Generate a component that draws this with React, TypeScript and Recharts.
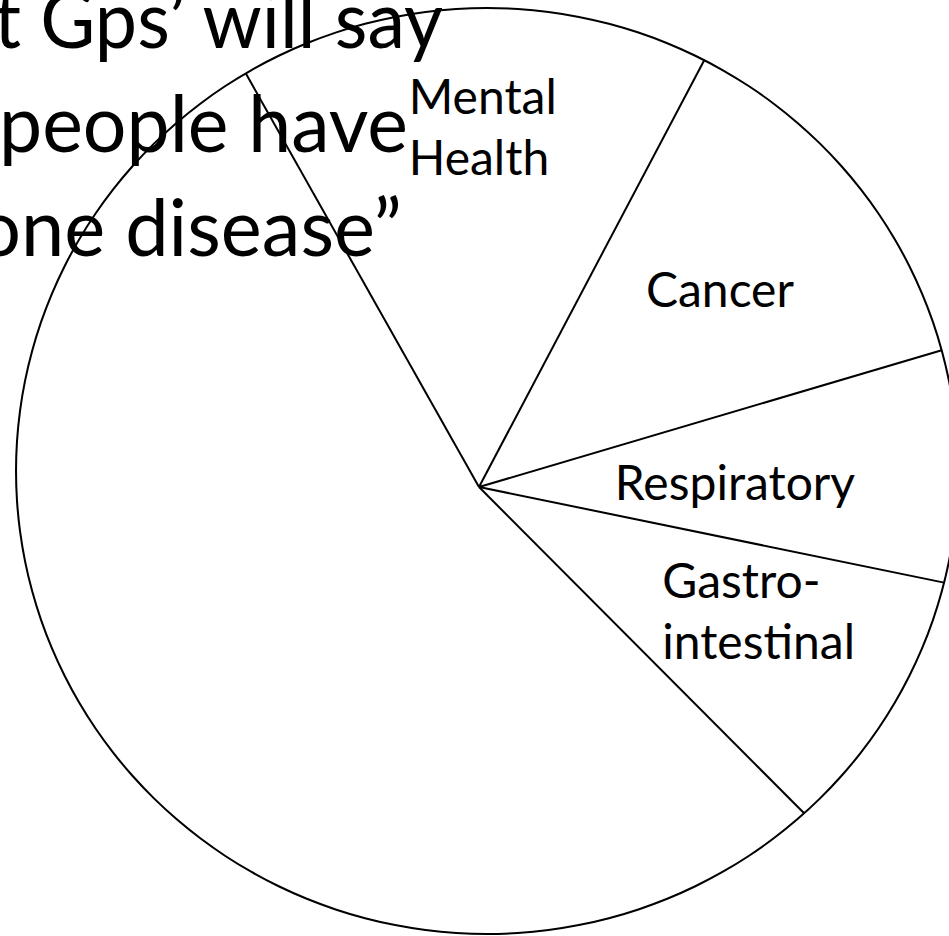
import React from 'react';
import { PieChart, Pie } from 'recharts';

// Share of consultations by disease area (percent), listed counter-clockwise
const CATEGORIES = ['Gastro-intestinal', 'Respiratory', 'Cancer', 'Mental Health', 'Other'];
const SHARES = [9.3, 7.8, 12.7, 15.9, 54.3];
// Slice captions, one entry per line (the large slice is left blank)
const LABEL_LINES: string[][] = [['Gastro-', 'intestinal'], ['Respiratory'], ['Cancer'], ['Mental', 'Health'], []];
// Heading text that runs in from the left edge of the slide
const TITLE_LINES = ['t Gps’ will say', 'people have', 'one disease”'];

const W = 949;
const H = 936;
const FONT = 'Lato, "Open Sans", sans-serif';

const PIE = { cx: 479, cy: 487, r: 467, startAngle: -45.1 };
// The outline is slightly wider than tall: drawn as a ring and stretched horizontally
const OUTLINE = { cx: 487, cy: 471, r: 464, stretch: 472 / 464, width: 2 };
const LABEL_SIZE = 48;
const LABEL_CAP = 34;
const LABEL_LINE_H = 61;
// Caption placement: distance from the pie centre and a small angular nudge off the slice mid-angle
const LABEL_PLACE = [
  { dist: 306, shift: 4.4 },
  { dist: 256, shift: -1.6 },
  { dist: 311, shift: -0.1 },
  { dist: 360, shift: -1.4 },
  { dist: 0, shift: 0 },
];
const TITLE = { size: 80, lineH: 104, firstBaseline: 48 };
const TITLE_SPAN = [
  { x: -6, w: 449 },
  { x: -1, w: 409 },
  { x: -23, w: 425 },
];

const data = CATEGORIES.map((name, i) => ({ name, share: SHARES[i] }));
const ring = [{ name: 'outline', share: 1 }];

const RAD = Math.PI / 180;

let measureCtx: CanvasRenderingContext2D | null = null;
function textWidth(s: string, size: number): number {
  if (!measureCtx) measureCtx = document.createElement('canvas').getContext('2d');
  if (!measureCtx) return s.length * size * 0.5;
  measureCtx.font = `${size}px Lato`;
  return measureCtx.measureText(s).width;
}

// Distance along a ray from (x, y) in direction (ux, uy) to the stretched outline
function distToOutline(x: number, y: number, ux: number, uy: number): number {
  const a = (OUTLINE.r - OUTLINE.width / 2) * OUTLINE.stretch;
  const b = OUTLINE.r - OUTLINE.width / 2;
  const px = x - OUTLINE.cx;
  const py = y - OUTLINE.cy;
  const A = (ux * ux) / (a * a) + (uy * uy) / (b * b);
  const B = 2 * ((px * ux) / (a * a) + (py * uy) / (b * b));
  const C = (px * px) / (a * a) + (py * py) / (b * b) - 1;
  return (-B + Math.sqrt(B * B - 4 * A * C)) / (2 * A);
}

// Draws the boundary spoke at the start of each slice and the slice's caption
function renderSlice(props: any) {
  const { cx, cy, startAngle, endAngle, index } = props;
  const ux = Math.cos(-startAngle * RAD);
  const uy = Math.sin(-startAngle * RAD);
  const t = distToOutline(cx, cy, ux, uy);

  const lines = LABEL_LINES[index] || [];
  const place = LABEL_PLACE[index];
  const mid = (startAngle + endAngle) / 2 + place.shift;
  const lx = cx + place.dist * Math.cos(-mid * RAD);
  const ly = cy + place.dist * Math.sin(-mid * RAD);
  const top = ly - ((lines.length - 1) * LABEL_LINE_H + LABEL_CAP) / 2;
  const blockW = Math.max(0, ...lines.map((s) => textWidth(s, LABEL_SIZE)));
  const left = lx - blockW / 2;

  return (
    <g key={`slice-${index}`}>
      <line x1={cx} y1={cy} x2={cx + ux * t} y2={cy + uy * t} stroke="#000" strokeWidth={2} />
      {lines.map((s, i) => (
        <text
          key={s}
          x={left}
          y={top + LABEL_CAP + i * LABEL_LINE_H}
          textAnchor="start"
          fontFamily={FONT}
          fontSize={LABEL_SIZE}
          fill="#000"
        >
          {s}
        </text>
      ))}
    </g>
  );
}

export default function App() {
  return (
    <div style={{ position: 'absolute', left: 0, top: 0, width: W, height: H, background: '#fff', overflow: 'hidden' }}>
      <svg width={W} height={H} style={{ position: 'absolute', left: 0, top: 0 }}>
        {TITLE_LINES.map((s, i) => (
          <text
            key={s}
            x={TITLE_SPAN[i].x}
            y={TITLE.firstBaseline + i * TITLE.lineH}
            textLength={TITLE_SPAN[i].w}
            lengthAdjust="spacingAndGlyphs"
            fontFamily={FONT}
            fontSize={TITLE.size}
            fill="#000"
          >
            {s}
          </text>
        ))}
      </svg>
      <div
        style={{
          position: 'absolute',
          left: 0,
          top: 0,
          transform: `scaleX(${OUTLINE.stretch})`,
          transformOrigin: `${OUTLINE.cx}px ${OUTLINE.cy}px`,
        }}
      >
        <PieChart width={W} height={H} margin={{ top: 0, right: 0, bottom: 0, left: 0 }}>
          <Pie
            data={ring}
            dataKey="share"
            cx={OUTLINE.cx}
            cy={OUTLINE.cy}
            innerRadius={OUTLINE.r - OUTLINE.width}
            outerRadius={OUTLINE.r}
            startAngle={90}
            endAngle={450}
            fill="#000"
            stroke="none"
            isAnimationActive={false}
          />
        </PieChart>
      </div>
      <div style={{ position: 'absolute', left: 0, top: 0 }}>
        <PieChart width={W} height={H} margin={{ top: 0, right: 0, bottom: 0, left: 0 }}>
          <Pie
            data={data}
            dataKey="share"
            nameKey="name"
            cx={PIE.cx}
            cy={PIE.cy}
            outerRadius={PIE.r}
            startAngle={PIE.startAngle}
            endAngle={PIE.startAngle + 360}
            fill="none"
            stroke="none"
            label={renderSlice}
            labelLine={false}
            isAnimationActive={false}
          />
        </PieChart>
      </div>
    </div>
  );
}
